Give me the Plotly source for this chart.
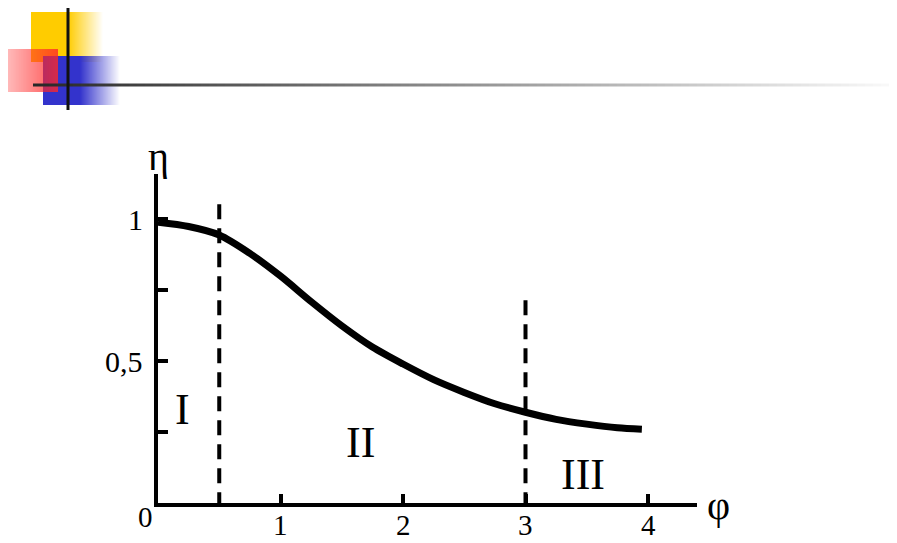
import plotly.graph_objects as go

# ---- data ----
phi = [0.0, 0.25, 0.5, 0.75, 1.0, 1.25, 1.5, 1.75, 2.0, 2.25, 2.5, 2.75, 3.0, 3.25, 3.5, 3.75, 3.95]
eta = [0.99, 0.975, 0.945, 0.88, 0.80, 0.71, 0.625, 0.55, 0.49, 0.435, 0.39, 0.35, 0.32, 0.295, 0.278, 0.265, 0.26]
boundaries = [0.5, 3.0]
boundary_tops = [1.067, 0.74]
x_tick_vals = [1, 2, 3, 4]
x_tick_text = ["1", "2", "3", "4"]
y_tick_vals = [0.25, 0.5, 0.75, 1.0]
y_label_vals = [0.5, 1.0]
y_label_text = ["0,5", "1"]
zone_labels = ["I", "II", "III"]
zone_x = [0.2, 1.65, 3.47]
zone_y = [0.33, 0.215, 0.1]

W, H = 897, 543
OFF = 8  # page body margin in the browser
L, R, T, B = 158, 697, 174, 503   # plot area in screenshot pixels
XR = [0, 4.4]
YR = [0, 1.16]

def px(x):
    return (x - L) / (R - L)

def py(y):
    return (B - y) / (B - T)

SERIF = "Liberation Serif, Times New Roman, serif"

fig = go.Figure()
fig.add_trace(go.Scatter(
    x=phi, y=eta, mode="lines",
    line=dict(color="black", width=7, shape="spline", smoothing=0.8),
    cliponaxis=False, hoverinfo="skip", showlegend=False,
))

shapes = []
# dashed boundaries
for bx, top in zip(boundaries, boundary_tops):
    shapes.append(dict(type="line", xref="x", yref="y", x0=bx, x1=bx, y0=-0.015, y1=top,
                       line=dict(color="black", width=4, dash="15px,9px")))

# ---- decorative slide header ----
def grad_rect(x0, x1, y0, y1, rgb, op_start, op_end, solid_until=None):
    out = []
    x = x0
    while x < x1:
        xe = x + 1
        xm = x + 0.5
        if solid_until is not None and xm <= solid_until:
            op = op_start
        else:
            s = solid_until if solid_until is not None else x0
            t = (xm - s) / (x1 - s)
            op = op_start + (op_end - op_start) * t
        out.append(dict(type="rect", xref="paper", yref="paper",
                        x0=px(x), x1=px(xe), y0=py(y1), y1=py(y0),
                        fillcolor=f"rgba({rgb[0]},{rgb[1]},{rgb[2]},{max(op,0):.3f})",
                        line=dict(width=0)))
        x = xe
    return out

shapes += grad_rect(31, 103, 12, 62, (255, 204, 0), 1.0, 0.0, solid_until=68)
shapes += grad_rect(43, 120, 56, 105, (51, 51, 204), 1.0, 0.0, solid_until=80)
shapes += grad_rect(0, 58, 49, 92, (255, 40, 40), 0.25, 0.8)

# horizontal rule fading right
x = 33
while x < 893:
    xe = x + 8
    g = int(min(252, 40 + (x + 4 - 33) * 0.245))
    shapes.append(dict(type="line", xref="paper", yref="paper",
                       x0=px(x), x1=px(xe), y0=py(85), y1=py(85),
                       line=dict(color=f"rgb({g},{g},{g})", width=3)))
    x = xe
# vertical black rule
shapes.append(dict(type="line", xref="paper", yref="paper",
                   x0=px(68), x1=px(68), y0=py(0), y1=py(110),
                   line=dict(color="#111111", width=3)))

annotations = []
for v, t in zip(x_tick_vals, x_tick_text):
    annotations.append(dict(x=v, y=py(525), xref="x", yref="paper", text=t, showarrow=False,
                            font=dict(family=SERIF, size=29, color="black"),
                            xanchor="center", yanchor="middle"))
for v, t in zip(y_label_vals, y_label_text):
    annotations.append(dict(x=px(L - 13), y=v, xref="paper", yref="y", text=t, showarrow=False,
                            font=dict(family=SERIF, size=30, color="black"),
                            xanchor="right", yanchor="middle"))
annotations.append(dict(x=px(145), y=py(517), xref="paper", yref="paper", text="0", showarrow=False,
                        font=dict(family=SERIF, size=29, color="black"),
                        xanchor="center", yanchor="middle"))
annotations.append(dict(x=px(158), y=py(156), xref="paper", yref="paper", text="η", showarrow=False,
                        font=dict(family=SERIF, size=40, color="black"),
                        xanchor="center", yanchor="middle"))
annotations.append(dict(x=px(718), y=py(505), xref="paper", yref="paper", text="φ", showarrow=False,
                        font=dict(family=SERIF, size=40, color="black"),
                        xanchor="center", yanchor="middle"))
for t, zx, zy in zip(zone_labels, zone_x, zone_y):
    annotations.append(dict(x=zx, y=zy, xref="x", yref="y", text=t, showarrow=False,
                            font=dict(family=SERIF, size=44, color="black"),
                            xanchor="center", yanchor="middle"))

fig.update_layout(
    width=W, height=H,
    margin=dict(l=L - OFF, r=W - (R - OFF), t=T - OFF, b=H - (B - OFF), pad=0),
    paper_bgcolor="white", plot_bgcolor="white",
    shapes=shapes, annotations=annotations,
    showlegend=False,
    xaxis=dict(range=XR, showgrid=False, zeroline=False, showline=True, linecolor="black",
               linewidth=4, ticks="inside", tickvals=x_tick_vals, ticklen=9, tickwidth=4,
               tickcolor="black", showticklabels=False, fixedrange=True),
    yaxis=dict(range=YR, showgrid=False, zeroline=False, showline=True, linecolor="black",
               linewidth=4, ticks="inside", tickvals=y_tick_vals, ticklen=10, tickwidth=4,
               tickcolor="black", showticklabels=False, fixedrange=True),
)

fig.write_html("out.html")
